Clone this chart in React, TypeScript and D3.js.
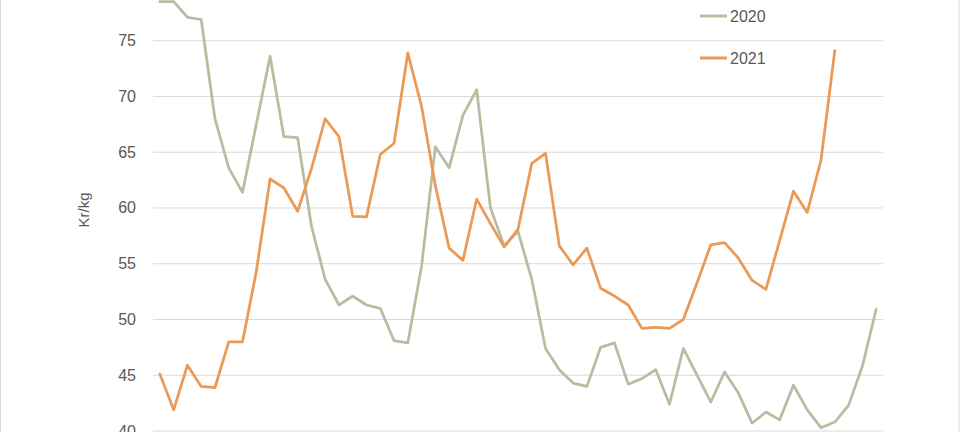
import React from "react";
import * as d3 from "d3";

const weeks = [1,2,3,4,5,6,7,8,9,10,11,12,13,14,15,16,17,18,19,20,21,22,23,24,25,26,27,28,29,30,31,32,33,34,35,36,37,38,39,40,41,42,43,44,45,46,47,48,49,50,51,52,53];

const price2020 = [78.5, 78.5, 77.1, 76.9, 68.0, 63.6, 61.4, 67.5, 73.6, 66.4, 66.3, 58.4, 53.6, 51.3, 52.1, 51.3, 51.0, 48.1, 47.9, 54.8, 65.5, 63.6, 68.3, 70.6, 60.0, 56.6, 57.9, 53.6, 47.4, 45.5, 44.3, 44.0, 47.5, 47.9, 44.2, 44.7, 45.5, 42.4, 47.4, 45.0, 42.6, 45.3, 43.4, 40.7, 41.7, 41.0, 44.1, 41.9, 40.3, 40.8, 42.3, 45.8, 50.9];

const price2021 = [45.1, 41.9, 45.9, 44.0, 43.9, 48.0, 48.0, 54.3, 62.6, 61.8, 59.7, 63.5, 68.0, 66.4, 59.25, 59.2, 64.8, 65.8, 73.9, 69.1, 62.0, 56.4, 55.3, 60.8, 58.6, 56.5, 58.1, 64.0, 64.9, 56.6, 54.9, 56.4, 52.8, 52.1, 51.3, 49.2, 49.3, 49.2, 50.0, 53.3, 56.7, 56.9, 55.5, 53.5, 52.7, 57.1, 61.5, 59.6, 64.3, 74.1];

const yTicks = [40, 45, 50, 55, 60, 65, 70, 75];

const seriesNames = ["2020", "2021"];
const seriesColors = ["#b9bca1", "#eb9a55"];

export default function App() {
  const W = 960, H = 432;
  const x = d3.scaleBand<number>().domain(weeks).range([153, 883]);
  const y = d3.scaleLinear().domain([40, 75]).range([431, 40.7]);
  const cx = (i: number) => (x(weeks[i]) as number) + x.bandwidth() / 2;
  const line = d3.line<number>().x((_, i) => cx(i)).y((d) => y(d));
  const font = "'Liberation Sans', Arial, sans-serif";
  const series = [price2020, price2021];

  return (
    <div style={{ position: "absolute", left: 0, top: 0, width: W, height: H, background: "#fff" }}>
      <svg width={W} height={H} style={{ display: "block" }}>
        <rect x={0.5} y={-5} width={W - 1.5} height={H + 10} fill="#fff" stroke="#d9d9d9" strokeWidth={1} />
        {yTicks.map((t) => (
          <g key={t}>
            <line x1={153} x2={883} y1={y(t)} y2={y(t)} stroke="#d9d9d9" strokeWidth={1} />
            <text x={136} y={y(t)} textAnchor="end" dominantBaseline="central" fontFamily={font} fontSize={16} fill="#595959">
              {t}
            </text>
          </g>
        ))}
        <text
          transform={`translate(89,210) rotate(-90)`}
          textAnchor="middle"
          fontFamily={font}
          fontSize={15}
          fill="#595959"
        >
          Kr/kg
        </text>
        {series.map((s, k) => (
          <path key={k} d={line(s) || ""} fill="none" stroke={seriesColors[k]} strokeWidth={2.75} strokeLinejoin="round" strokeLinecap="round" />
        ))}
        {seriesNames.map((n, k) => (
          <g key={n}>
            <line x1={700} x2={727} y1={16 + k * 42} y2={16 + k * 42} stroke={seriesColors[k]} strokeWidth={3} />
            <text x={730} y={16 + k * 42} dominantBaseline="central" fontFamily={font} fontSize={16} fill="#595959">
              {n}
            </text>
          </g>
        ))}
      </svg>
    </div>
  );
}
